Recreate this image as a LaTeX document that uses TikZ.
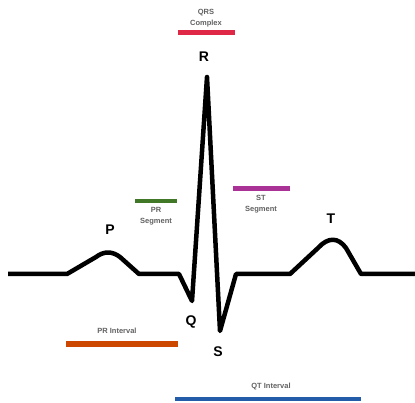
\documentclass[tikz,border=0pt]{standalone}
\usepackage{fontspec}
\setmainfont{Liberation Sans}
\begin{document}
\begin{tikzpicture}[x=1pt,y=-1pt,
  ecg/.style={line width=4.5pt,line join=round,line cap=butt},
  wlabel/.style={font=\bfseries\fontsize{14}{14}\selectfont},
  small/.style={font=\bfseries\fontsize{7.5}{11.5}\selectfont,text=black!62,align=center,inner sep=0pt},
  bar/.style={line width=#1},
]
\useasboundingbox (0,0) rectangle (415,403);
\definecolor{qrsc}{RGB}{222,40,70}
\definecolor{prsc}{RGB}{65,120,40}
\definecolor{stsc}{RGB}{170,50,150}
\definecolor{pric}{RGB}{204,72,0}
\definecolor{qtic}{RGB}{35,92,168}
% ECG trace
\coordinate (start) at (8,274);
\coordinate (p0) at (67,274);
\coordinate (p1) at (139,274);
\coordinate (q0) at (179,274);
\coordinate (qb) at (192,301);
\coordinate (rp) at (207,77);
\coordinate (sb) at (220,331);
\coordinate (s1) at (236,274);
\coordinate (t0) at (290,274);
\coordinate (t1) at (361,274);
\coordinate (end) at (415,274);
\draw[ecg] (start) -- (p0) -- (96,257) .. controls (104,251) and (112,251) .. (120,257)
  -- (p1) -- (q0) -- (qb) -- (rp) -- (sb) -- (s1) -- (t0)
  -- (318,248) .. controls (328,237) and (338,237) .. (346,248)
  -- (t1) -- (end);
% wave labels
\node[wlabel] (P) at (110,230) {P};
\node[wlabel] (R) at (204,57) {R};
\node[wlabel] (Q) at (191,322) {Q};
\node[wlabel] (S) at (218,352) {S};
\node[wlabel] (T) at (331,219) {T};
% bars
\coordinate (qrsA) at (178,33); \coordinate (qrsB) at (235,33);
\draw[bar=5pt,qrsc] (qrsA) -- (qrsB);
\node[small] (qrst) at (206,18) {QRS\\Complex};
\coordinate (prsA) at (135,201); \coordinate (prsB) at (177,201);
\draw[bar=4pt,prsc] (prsA) -- (prsB);
\node[small] (prst) at (156,216) {PR\\Segment};
\coordinate (stsA) at (233,189); \coordinate (stsB) at (290,189);
\draw[bar=5pt,stsc] (stsA) -- (stsB);
\node[small] (stst) at (261,204) {ST\\Segment};
\coordinate (priA) at (66,344); \coordinate (priB) at (178,344);
\draw[bar=6pt,pric] (priA) -- (priB);
\node[small] (prit) at (117,331) {PR Interval};
\coordinate (qtiA) at (175,399); \coordinate (qtiB) at (361,399);
\draw[bar=4pt,qtic] (qtiA) -- (qtiB);
\node[small] (qtit) at (271,387) {QT Interval};
\end{tikzpicture}
\end{document}
